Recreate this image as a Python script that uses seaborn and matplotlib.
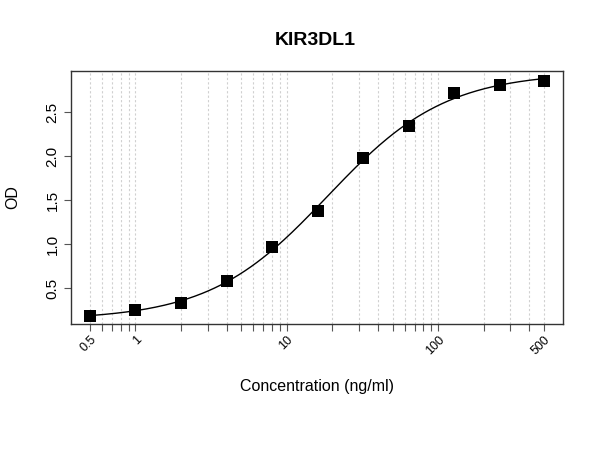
import numpy as np
import pandas as pd
import matplotlib
matplotlib.use("Agg")
import matplotlib.pyplot as plt
import seaborn as sns
from matplotlib.ticker import FixedLocator, FixedFormatter, NullLocator

# Data
concentration = [0.5, 1, 2, 4, 8, 16, 32, 64, 128, 256, 500]
od_values = [0.186, 0.247, 0.333, 0.576, 0.968, 1.376, 1.977, 2.337, 2.719, 2.813, 2.850]
x_tick_labels = ["0.5", "1", "10", "100", "500"]
x_tick_values = [0.5, 1, 10, 100, 500]
y_tick_values = [0.5, 1.0, 1.5, 2.0, 2.5]
title = "KIR3DL1"
x_label = "Concentration (ng/ml)"
y_label = "OD"

df = pd.DataFrame({"conc": concentration, "od": od_values})

# 4-parameter logistic fit to the points (grid search over slope/EC50, linear solve for asymptotes)
xs = np.array(concentration, dtype=float)
ys = np.array(od_values, dtype=float)
best = None
for b in np.linspace(0.5, 2.5, 201):
    for lc in np.linspace(0.0, 2.5, 251):
        c = 10 ** lc
        f = 1.0 / (1.0 + (xs / c) ** b)
        M = np.column_stack([f, 1 - f])
        coef, *_ = np.linalg.lstsq(M, ys, rcond=None)
        r = np.sum((M @ coef - ys) ** 2)
        if best is None or r < best[0]:
            best = (r, b, c, coef)
_, B, C, (A, D) = best
xf = np.logspace(np.log10(0.5), np.log10(500), 300)
ff = 1.0 / (1.0 + (xf / C) ** B)
curve = pd.DataFrame({"conc": xf, "od": A * ff + D * (1 - ff)})

sns.set_style("ticks")
plt.rcParams["font.family"] = ["Liberation Sans", "DejaVu Sans"]
plt.rcParams["text.color"] = "black"
plt.rcParams["axes.labelcolor"] = "black"
plt.rcParams["xtick.color"] = "black"
plt.rcParams["ytick.color"] = "black"

fig = plt.figure(figsize=(6, 4.5), dpi=100)
ax = fig.add_axes([0.118, 0.28, 0.82, 0.562])

ax.set_xscale("log")
ax.set_xlim(0.374, 667)
ax.set_ylim(0.09, 2.966)

# vertical dotted grid at every minor decade step
grid_x = []
for dec in [0.1, 1, 10, 100]:
    for m in range(1, 10):
        v = m * dec
        if 0.5 - 1e-9 <= v <= 500 + 1e-9:
            grid_x.append(v)
for g in grid_x:
    ax.axvline(g, color="#d0d0d0", linestyle=(0, (2, 2)), linewidth=0.8, zorder=0)

sns.lineplot(data=curve, x="conc", y="od", ax=ax, color="black", linewidth=1.0, zorder=2)
sns.scatterplot(data=df, x="conc", y="od", ax=ax, marker="s", color="black",
                s=80, edgecolor="black", linewidth=0, zorder=3)

ax.xaxis.set_major_locator(FixedLocator(grid_x))
labels = []
for g in grid_x:
    lab = ""
    for v, t in zip(x_tick_values, x_tick_labels):
        if abs(g - v) < 1e-9:
            lab = t
    labels.append(lab)
ax.xaxis.set_major_formatter(FixedFormatter(labels))
ax.xaxis.set_minor_locator(NullLocator())
ax.set_yticks(y_tick_values)
ax.set_yticklabels([f"{v:.1f}" for v in y_tick_values])

ax.tick_params(axis="x", labelsize=9, length=5, width=0.8, color="#555555", labelcolor="black",
               labelrotation=45, pad=2)
ax.tick_params(axis="y", labelsize=11, length=5, width=0.8, color="#555555", labelcolor="black",
               labelrotation=90, pad=3)
for lab in ax.get_xticklabels():
    lab.set_ha("right")
    lab.set_va("top")
    lab.set_rotation_mode("anchor")
for lab in ax.get_yticklabels():
    lab.set_va("center")

for s in ax.spines.values():
    s.set_visible(True)
    s.set_color("#333333")
    s.set_linewidth(1.0)

ax.set_xlabel(x_label, fontsize=11.5, labelpad=16, color="black")
ax.set_ylabel(y_label, fontsize=11.5, labelpad=18, color="black")
fig.text(0.525, 0.91, title, ha="center", va="center", fontsize=14, fontweight="bold", color="black")

fig.savefig("out.png", dpi=100, facecolor="white")
